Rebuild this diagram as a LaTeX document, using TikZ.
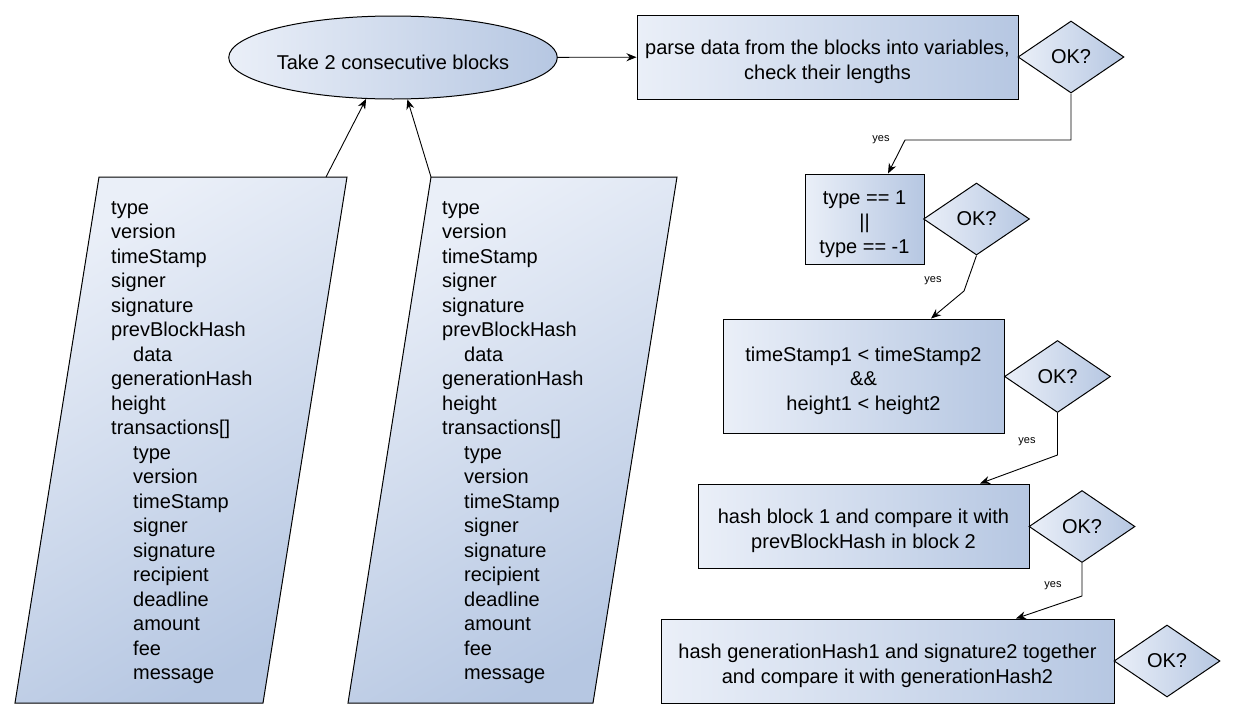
\documentclass[tikz,border=0pt]{standalone}
\usepackage{fontspec}
\setmainfont{Liberation Sans}
\usetikzlibrary{shapes.geometric,arrows.meta,calc}
\definecolor{lightc}{RGB}{234,239,248}
\definecolor{darkc}{RGB}{182,199,226}
\newcommand\myind{\hspace*{22pt}}
\newcommand\tstrut{\rule{0pt}{24pt}}
\newcommand\blocklist{type\\version\\timeStamp\\signer\\signature\\prevBlockHash\\\myind data\\generationHash\\height\\transactions[]\\\myind type\\\myind version\\\myind timeStamp\\\myind signer\\\myind signature\\\myind recipient\\\myind deadline\\\myind amount\\\myind fee\\\myind message}
\begin{document}
\begin{tikzpicture}[x=1pt,y=-1pt,
  every node/.style={font=\fontsize{20}{24.5}\selectfont},
  box/.style={draw, line width=1pt, left color=lightc, right color=darkc, inner sep=0pt, align=center},
  dec/.style={diamond, draw, line width=1pt, left color=lightc, right color=darkc, inner sep=0pt, minimum width=106pt, minimum height=72pt, aspect=1.47},
  para/.style={draw, line width=1pt, top color=lightc, bottom color=darkc, shading angle=30},
  arr/.style={line width=0.9pt, -{Stealth[length=10pt,width=8pt]}},
  ln/.style={line width=0.9pt},
  yes/.style={font=\fontsize{11}{13}\selectfont, inner sep=1pt}
]
\useasboundingbox (0,0) rectangle (1236,718);
% ellipse
\node[ellipse, draw, line width=1pt, left color=lightc, right color=darkc, minimum width=282pt, minimum height=83pt, inner sep=0pt] (take) at (393,57.5) {\tstrut Take 2 consecutive blocks};
% parallelograms
\draw[para] (99,177) coordinate (pl1) -- (347,177) coordinate (pl2) -- (263,703) -- (15,703) -- cycle;
\draw[para] (431,177) coordinate (pr1) -- (677,177) coordinate (pr2) -- (593,703) -- (348,703) -- cycle;
\coordinate (plout) at (326,177);
\node[anchor=base west, align=left, inner sep=0pt] (list1) at (111,679.5) {\blocklist};
\node[anchor=base west, align=left, inner sep=0pt] (list2) at (442,679.5) {\blocklist};
% boxes
\node[box, minimum width=381pt, minimum height=84pt] (parse) at (827.5,57) {\tstrut parse data from the blocks into variables,\\check their lengths};
\node[box, minimum width=119pt, minimum height=90pt] (typ) at (864.5,219) {\tstrut type == 1\\||\\type == -1};
\node[box, minimum width=281pt, minimum height=114pt] (ts) at (863.5,376) {\tstrut timeStamp1 < timeStamp2\\\&\&\\height1 < height2};
\node[box, minimum width=331pt, minimum height=84pt] (hb) at (863.5,526) {\tstrut hash block 1 and compare it with\\prevBlockHash in block 2};
\node[box, minimum width=453pt, minimum height=84pt] (hg) at (887.5,661) {\tstrut hash generationHash1 and signature2 together\\and compare it with generationHash2};
% diamonds
\node[dec] (d1) at (1071,57) {OK?};
\node[dec] (d2) at (976.5,219) {OK?};
\node[dec] (d3) at (1057.5,376.5) {OK?};
\node[dec] (d4) at (1082,526.5) {OK?};
\node[dec] (d5) at (1167,661) {OK?};
% bend coordinates
\coordinate (b1) at (905,140);
\coordinate (b2) at (964,291);
\coordinate (b3) at (1057.5,455);
\coordinate (b4) at (1082,596);
% connectors
\draw[arr] (plout) -- (take.237);
\draw[arr] (pr1) -- (take.289);
\draw[arr] (take) -- (parse);
\draw[arr] (d1.south) |- (b1) -- ([xshift=23.5pt]typ.north);
\draw[arr] (d2.south) -- (b2) -- ([xshift=67.5pt]ts.north);
\draw[arr] (d3.south) -- (b3) -- ([xshift=116.5pt]hb.north);
\draw[arr] (d4.south) -- (b4) -- ([xshift=128.5pt]hg.north);
% labels
\node[yes] (y1) at (881,140) {yes};
\node[yes] (y2) at (933,281) {yes};
\node[yes] (y3) at (1027,442) {yes};
\node[yes] (y4) at (1053,586) {yes};
\end{tikzpicture}
\end{document}
